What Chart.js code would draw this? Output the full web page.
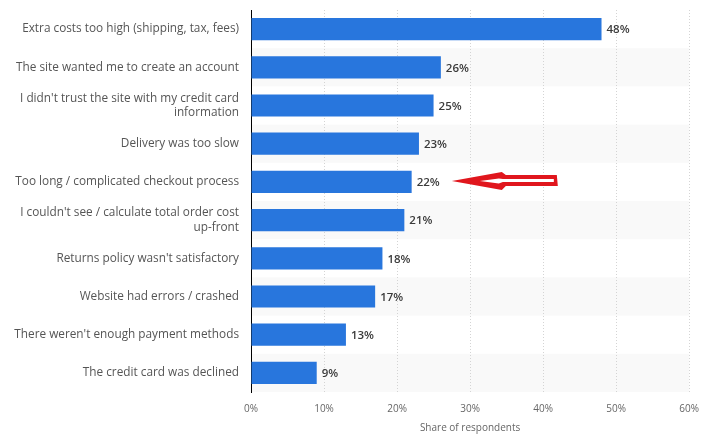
<!DOCTYPE html>
<html>
<head>
<meta charset="utf-8">
<script src="https://cdn.jsdelivr.net/npm/chart.js@4/dist/chart.umd.min.js"></script>
<style>
  html, body { margin: 0; padding: 0; background: #fff; }
  #wrap { width: 710px; height: 438px; position: relative; }
</style>
</head>
<body>
<div id="wrap"><canvas id="reasonsChart"></canvas></div>
<script>
// Reasons for abandoning checkout - share of respondents
var categories = [
  'Extra costs too high (shipping, tax, fees)',
  'The site wanted me to create an account',
  ["I didn't trust the site with my credit card", 'information'],
  'Delivery was too slow',
  'Too long / complicated checkout process',
  ["I couldn't see / calculate total order cost", 'up-front'],
  "Returns policy wasn't satisfactory",
  'Website had errors / crashed',
  "There weren't enough payment methods",
  'The credit card was declined'
];
var shares = [48, 26, 25, 23, 22, 21, 18, 17, 13, 9];
var tickValues = [0, 10, 20, 30, 40, 50, 60];
var highlightIndex = 4; // row the red arrow points at
var arrowAt = 27.5;     // share value where the arrow tip sits

var FONT = "'Open Sans', sans-serif";

// light stripes behind every second row
var stripes = {
  id: 'stripes',
  beforeDraw: function (chart) {
    var ctx = chart.ctx, area = chart.chartArea, y = chart.scales.y;
    var step = y.getPixelForValue(1) - y.getPixelForValue(0);
    ctx.save();
    ctx.fillStyle = '#f9f9f9';
    for (var i = 1; i < categories.length; i += 2) {
      var c = y.getPixelForValue(i);
      ctx.fillRect(area.left, c - step / 2, area.right - area.left, step);
    }
    ctx.restore();
  }
};

// "48%" labels at the bar ends
var valueLabels = {
  id: 'valueLabels',
  afterDatasetsDraw: function (chart) {
    var ctx = chart.ctx;
    var meta = chart.getDatasetMeta(0);
    ctx.save();
    ctx.font = '600 11.5px ' + FONT;
    ctx.fillStyle = '#3a3a3a';
    ctx.textAlign = 'left';
    ctx.textBaseline = 'middle';
    meta.data.forEach(function (bar, i) {
      ctx.fillText(shares[i] + '%', bar.x + 5, bar.y + 1);
    });
    ctx.restore();
  }
};

// hand-drawn looking red arrow
var redArrow = {
  id: 'redArrow',
  afterDraw: function (chart) {
    var ctx = chart.ctx;
    var x = chart.scales.x.getPixelForValue(arrowAt);
    var y = chart.scales.y.getPixelForValue(highlightIndex) - 1;
    ctx.save();
    ctx.fillStyle = '#e0161d';
    ctx.beginPath();
    ctx.moveTo(x, y);
    ctx.lineTo(x + 50, y - 9);
    ctx.lineTo(x + 54, y - 6);
    ctx.lineTo(x + 105, y - 6);
    ctx.lineTo(x + 106, y + 5);
    ctx.lineTo(x + 54, y + 5);
    ctx.lineTo(x + 50, y + 9);
    ctx.closePath();
    ctx.fill();
    ctx.fillStyle = '#fff';
    ctx.beginPath();
    ctx.moveTo(x + 28, y);
    ctx.lineTo(x + 47, y - 2.5);
    ctx.lineTo(x + 51, y - 2);
    ctx.lineTo(x + 102, y - 2);
    ctx.lineTo(x + 102, y + 1);
    ctx.lineTo(x + 51, y + 1);
    ctx.lineTo(x + 47, y + 2.5);
    ctx.closePath();
    ctx.fill();
    ctx.restore();
  }
};

new Chart(document.getElementById('reasonsChart').getContext('2d'), {
  type: 'bar',
  data: {
    labels: categories,
    datasets: [{
      data: shares,
      backgroundColor: '#2876dd',
      borderWidth: 0,
      categoryPercentage: 1,
      barPercentage: 0.58
    }]
  },
  options: {
    indexAxis: 'y',
    responsive: true,
    maintainAspectRatio: false,
    animation: false,
    layout: { padding: { top: 10, right: 19, left: 0, bottom: 0 } },
    plugins: {
      legend: { display: false },
      tooltip: { enabled: false }
    },
    scales: {
      x: {
        min: 0,
        max: 60,
        afterBuildTicks: function (scale) {
          scale.ticks = tickValues.map(function (v) { return { value: v }; });
        },
        afterFit: function (scale) { scale.height = 46; },
        ticks: {
          color: '#666',
          font: { family: FONT, size: 10 },
          padding: 11,
          callback: function (v) { return v + '%'; }
        },
        grid: { color: '#d4d4d4', drawTicks: false, borderDash: [1, 2] },
        border: { display: false, dash: [1, 2] },
        title: {
          display: true,
          text: 'Share of respondents',
          color: '#666',
          font: { family: FONT, size: 10 },
          padding: { top: 2, bottom: 4 }
        }
      },
      y: {
        afterFit: function (scale) {
          scale.width = 251;
          scale.paddingTop = 0;
          scale.paddingBottom = 0;
        },
        ticks: {
          color: '#555',
          font: { family: FONT, size: 11.8 },
          padding: 12
        },
        grid: { display: false, drawTicks: false },
        border: { display: true, color: '#000', width: 1 }
      }
    }
  },
  plugins: [stripes, valueLabels, redArrow]
});
</script>
</body>
</html>
